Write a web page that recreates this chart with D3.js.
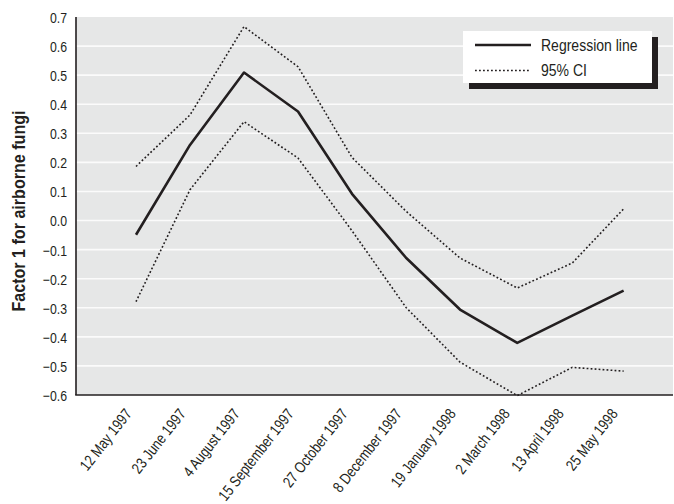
<!DOCTYPE html>
<html>
<head>
<meta charset="utf-8">
<script src="https://cdn.jsdelivr.net/npm/d3@7"></script>
<style>
  html, body { margin: 0; padding: 0; background: #ffffff; }
  svg { display: block; font-family: "Liberation Sans", Arial, sans-serif; }
</style>
</head>
<body>
<svg id="chart" width="674" height="504"></svg>
<script>
// Sampling dates shown on the x axis (one every six weeks)
const dateLabels = ["12 May 1997", "23 June 1997", "4 August 1997", "15 September 1997",
  "27 October 1997", "8 December 1997", "19 January 1998", "2 March 1998",
  "13 April 1998", "25 May 1998"];

// Position of each estimate along the date axis (in sampling periods)
const period = [0, 1, 2, 3, 4, 5, 6, 7.06, 8.08, 9.03];

// Fitted factor score and its 95% confidence band
const regression = [-0.049, 0.260, 0.509, 0.375, 0.092, -0.128, -0.306, -0.421, -0.327, -0.241];
const upperCI   = [0.186, 0.363, 0.667, 0.529, 0.217, 0.032, -0.129, -0.232, -0.146, 0.040];
const lowerCI   = [-0.279, 0.106, 0.340, 0.215, -0.035, -0.299, -0.487, -0.602, -0.505, -0.518];

// Y axis ticks
const yTicks = [0.7, 0.6, 0.5, 0.4, 0.3, 0.2, 0.1, 0.0, -0.1, -0.2, -0.3, -0.4, -0.5, -0.6];
const yTickLabels = ["0.7", "0.6", "0.5", "0.4", "0.3", "0.2", "0.1", "0.0",
  "\u22120.1", "\u22120.2", "\u22120.3", "\u22120.4", "\u22120.5", "\u22120.6"];

const legendItems = [
  { label: "Regression line", dash: null, width: 2.6 },
  { label: "95% CI", dash: "1.8,2.2", width: 1.5 }
];

const ink = "#231f20";
const squeeze = 0.82;          // horizontal compression for a condensed face
const svg = d3.select("#chart");
const plotLeft = 76, plotRight = 673, plotTop = 17, plotBottom = 395;

const x = d3.scaleLinear().domain([-60 / 54, 537 / 54]).range([plotLeft, plotRight]);
const y = d3.scaleLinear().domain([-0.6, 0.7]).range([plotBottom, plotTop]);

// Plot background
svg.append("rect")
  .attr("x", plotLeft).attr("y", plotTop)
  .attr("width", plotRight - plotLeft).attr("height", plotBottom - plotTop)
  .attr("fill", "#e6e7e7");

// Horizontal gridlines
svg.append("g")
  .selectAll("line")
  .data(yTicks.filter(v => v < 0.65 && v > -0.55))
  .join("line")
  .attr("x1", plotLeft).attr("x2", plotRight)
  .attr("y1", d => y(d)).attr("y2", d => y(d))
  .attr("stroke", "#fbfbfb")
  .attr("stroke-width", 1.6);

// Y axis
const yAxis = d3.axisLeft(y)
  .tickValues(yTicks)
  .tickSize(0)
  .tickFormat((d, i) => yTickLabels[i]);
const gy = svg.append("g").attr("transform", `translate(${plotLeft},0)`).call(yAxis);
gy.select(".domain").remove();
gy.selectAll("text")
  .attr("font-size", 15)
  .attr("font-family", null)
  .attr("fill", ink)
  .attr("x", 0)
  .attr("dy", "0.36em")
  .attr("transform", `translate(-9,0) scale(${squeeze},1)`);

// X axis
const xAxis = d3.axisBottom(x)
  .tickValues(d3.range(dateLabels.length))
  .tickSize(0)
  .tickFormat(i => dateLabels[i]);
const gx = svg.append("g").attr("transform", `translate(0,${plotBottom})`).call(xAxis);
gx.select(".domain").remove();
gx.selectAll("text")
  .attr("font-size", 15.5)
  .attr("font-family", null)
  .attr("fill", ink)
  .attr("text-anchor", "end")
  .attr("y", 0).attr("dy", 0)
  .attr("transform", `translate(-4,19) rotate(-52) scale(${squeeze},1)`);

// Axis lines
svg.append("line")
  .attr("x1", plotLeft).attr("x2", plotLeft).attr("y1", plotTop).attr("y2", plotBottom)
  .attr("stroke", ink).attr("stroke-width", 1.6);
svg.append("line")
  .attr("x1", plotLeft - 0.8).attr("x2", plotRight).attr("y1", plotBottom).attr("y2", plotBottom)
  .attr("stroke", ink).attr("stroke-width", 1.6);

// Y axis title
svg.append("text")
  .attr("transform", `translate(25,${(plotTop + plotBottom) / 2 + 5}) rotate(-90) scale(0.87,1)`)
  .attr("text-anchor", "middle")
  .attr("font-size", 18.5)
  .attr("font-weight", "bold")
  .attr("fill", ink)
  .text("Factor 1 for airborne fungi");

// Series lines
const line = values => d3.line()
  .x((d, i) => x(period[i]))
  .y(d => y(d))(values);

svg.append("path").attr("d", line(upperCI))
  .attr("fill", "none").attr("stroke", ink)
  .attr("stroke-width", 1.6).attr("stroke-dasharray", "1.8,2.2");
svg.append("path").attr("d", line(lowerCI))
  .attr("fill", "none").attr("stroke", ink)
  .attr("stroke-width", 1.6).attr("stroke-dasharray", "1.8,2.2");
svg.append("path").attr("d", line(regression))
  .attr("fill", "none").attr("stroke", ink)
  .attr("stroke-width", 2.6).attr("stroke-linejoin", "round");

// Legend with drop shadow
const lg = svg.append("g").attr("transform", "translate(463,31)");
lg.append("rect").attr("x", 6).attr("y", 6).attr("width", 189).attr("height", 52).attr("fill", ink);
lg.append("rect").attr("x", 0).attr("y", 0).attr("width", 189).attr("height", 52).attr("fill", "#ffffff");
const items = lg.selectAll("g.item").data(legendItems).join("g")
  .attr("class", "item")
  .attr("transform", (d, i) => `translate(0,${14 + i * 25.5})`);
items.append("line")
  .attr("x1", 12).attr("x2", 68).attr("y1", 0).attr("y2", 0)
  .attr("stroke", ink)
  .attr("stroke-width", d => d.width)
  .attr("stroke-dasharray", d => d.dash);
items.append("text")
  .attr("transform", `translate(78,5.5) scale(0.85,1)`)
  .attr("font-size", 16.5)
  .attr("fill", ink)
  .text(d => d.label);
</script>
</body>
</html>
